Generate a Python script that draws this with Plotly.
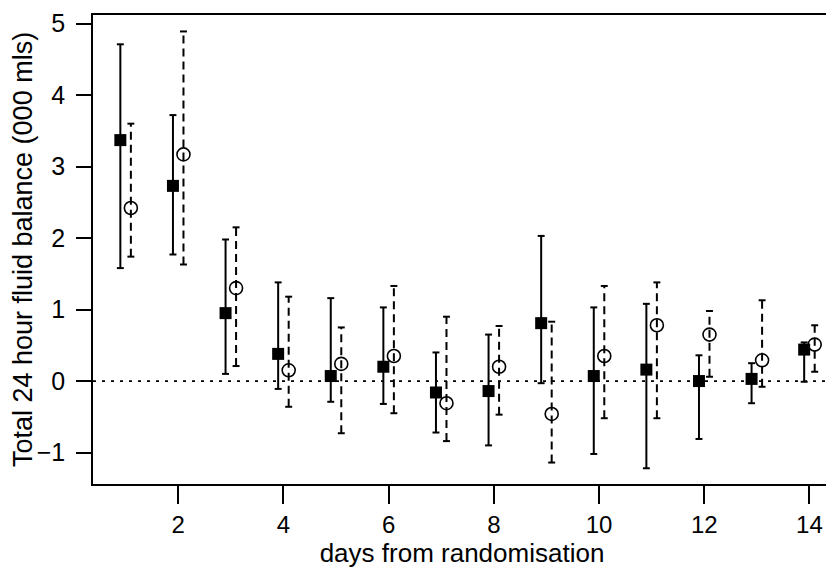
import plotly.graph_objects as go

days = list(range(1, 15))

# filled squares (solid error bars)
sq_mean = [3.37, 2.73, 0.95, 0.38, 0.07, 0.20, -0.16, -0.14, 0.81, 0.07, 0.16, 0.00, 0.03, 0.44]
sq_hi   = [4.71, 3.72, 1.98, 1.38, 1.16, 1.03, 0.40, 0.65, 2.03, 1.03, 1.08, 0.36, 0.25, 0.54]
sq_lo   = [1.58, 1.77, 0.10, -0.11, -0.29, -0.32, -0.72, -0.90, -0.03, -1.02, -1.22, -0.81, -0.31, -0.01]

# open circles (dashed error bars)
ci_mean = [2.42, 3.17, 1.30, 0.15, 0.24, 0.35, -0.31, 0.20, -0.46, 0.35, 0.78, 0.65, 0.29, 0.51]
ci_hi   = [3.60, 4.89, 2.15, 1.18, 0.75, 1.33, 0.90, 0.77, 0.83, 1.33, 1.38, 0.98, 1.13, 0.78]
ci_lo   = [1.74, 1.63, 0.21, -0.36, -0.73, -0.45, -0.84, -0.47, -1.14, -0.52, -0.52, 0.06, -0.08, 0.13]

x_ticks = [2, 4, 6, 8, 10, 12, 14]
y_ticks = [-1, 0, 1, 2, 3, 4, 5]

OFF = 0.1     # horizontal offset of the two groups
CAP = 0.066   # half-width of the error bar caps (x units)
FONT = "Liberation Sans, Arial, Helvetica, sans-serif"

sq_x = [d - OFF for d in days]
ci_x = [d + OFF for d in days]


def stems(xs, lo, hi):
    X, Y = [], []
    for x, a, b in zip(xs, lo, hi):
        X += [x, x, None]
        Y += [a, b, None]
    return X, Y


def caps(xs, lo, hi):
    X, Y = [], []
    for x, a, b in zip(xs, lo, hi):
        for v in (a, b):
            X += [x - CAP, x + CAP, None]
            Y += [v, v, None]
    return X, Y


fig = go.Figure()

sx, sy = stems(sq_x, sq_lo, sq_hi)
fig.add_trace(go.Scatter(x=sx, y=sy, mode="lines", line=dict(color="black", width=2), hoverinfo="skip"))
cx, cy = caps(sq_x, sq_lo, sq_hi)
fig.add_trace(go.Scatter(x=cx, y=cy, mode="lines", line=dict(color="black", width=2), hoverinfo="skip"))

sx, sy = stems(ci_x, ci_lo, ci_hi)
fig.add_trace(go.Scatter(x=sx, y=sy, mode="lines", line=dict(color="black", width=2, dash="8px,5px"), hoverinfo="skip"))
cx, cy = caps(ci_x, ci_lo, ci_hi)
fig.add_trace(go.Scatter(x=cx, y=cy, mode="lines", line=dict(color="black", width=2), hoverinfo="skip"))

fig.add_trace(go.Scatter(x=sq_x, y=sq_mean, mode="markers",
                         marker=dict(symbol="square", size=12, color="black", line=dict(width=0))))
fig.add_trace(go.Scatter(x=ci_x, y=ci_mean, mode="markers",
                         marker=dict(symbol="circle-open", size=13, color="black", line=dict(width=1.6, color="black"))))

fig.add_shape(type="line", xref="paper", yref="y", x0=0, x1=1, y0=0, y1=0,
              line=dict(color="black", width=1.8, dash="3px,6px"), layer="below")

# page has an 8px body margin, so the figure is 8px smaller than the window
fig.update_layout(
    width=826, height=566,
    margin=dict(l=85, r=1, t=2, b=90),
    paper_bgcolor="white", plot_bgcolor="white",
    showlegend=False,
    font=dict(family=FONT, size=25, color="black"),
)
fig.update_xaxes(range=[0.38, 14.41], tickvals=x_ticks, ticktext=[str(v) for v in x_ticks],
                 ticks="outside", ticklen=18, tickwidth=1.5, tickcolor="black",
                 showline=True, linecolor="black", linewidth=1.5, mirror=True,
                 showgrid=False, zeroline=False, ticklabeloverflow="allow",
                 title=dict(text="days from randomisation", standoff=2, font=dict(size=26)),
                 tickfont=dict(size=24))
fig.update_yaxes(range=[-1.44, 5.12], tickvals=y_ticks, ticktext=[("−1" if v == -1 else str(v)) for v in y_ticks],
                 ticks="outside", ticklen=15, tickwidth=1.5, tickcolor="black",
                 showline=True, linecolor="black", linewidth=1.5, mirror=True,
                 showgrid=False, zeroline=False, ticklabelstandoff=6, ticklabeloverflow="allow",
                 title=dict(text="Total 24 hour fluid balance (000 mls)", standoff=6, font=dict(size=27)),
                 tickfont=dict(size=25))

fig.write_html("out.html")
